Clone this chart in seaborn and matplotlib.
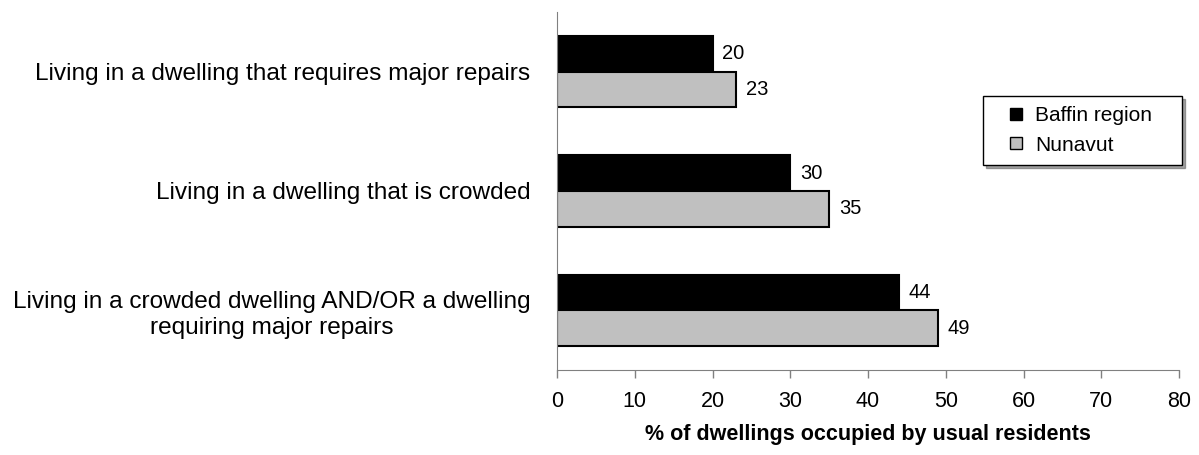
import matplotlib
matplotlib.use('Agg')
import matplotlib.pyplot as plt
import seaborn as sns
import pandas as pd
from matplotlib.lines import Line2D

categories = [
    'Living in a dwelling that requires major repairs',
    'Living in a dwelling that is crowded',
    'Living in a crowded dwelling AND/OR a dwelling\nrequiring major repairs',
]
baffin = [20, 30, 44]
nunavut = [23, 35, 49]
series = ['Baffin region', 'Nunavut']
colors = ['#000000', '#C0C0C0']
xticks = [0, 10, 20, 30, 40, 50, 60, 70, 80]

data = pd.DataFrame({
    'category': categories * 2,
    'value': baffin + nunavut,
    'series': [series[0]] * 3 + [series[1]] * 3,
})

sns.set_style('white')
plt.rcParams['font.family'] = ['Liberation Sans', 'DejaVu Sans']
plt.rcParams['text.color'] = 'black'
plt.rcParams['axes.labelcolor'] = 'black'

fig = plt.figure(figsize=(11.99, 4.55), dpi=100)
ax = fig.add_axes([557 / 1199, 1 - 370 / 455, (1179 - 557) / 1199, (370 - 12) / 455])

sns.barplot(data=data, y='category', x='value', hue='series', orient='h',
            palette=colors, width=0.6, edgecolor='black',
            linewidth=1.5, ax=ax, legend=False)

# value labels at the end of each bar
for cont in ax.containers:
    ax.bar_label(cont, padding=7, fontsize=14.5, color='black')

ax.set_xlim(0, 80)
ax.set_ylim(2.5, -0.5)
ax.set_xticks(xticks)
ax.tick_params(axis='x', labelsize=15.5, length=6, width=1, color='#808080',
               labelcolor='black', direction='out', bottom=True, pad=9)
ax.tick_params(axis='y', labelsize=17.6, length=0, pad=19, labelcolor='black')
for lbl in ax.get_yticklabels():
    lbl.set_multialignment('center')
    lbl.set_linespacing(1.25)
ax.set_ylabel('')
ax.set_xlabel('% of dwellings occupied by usual residents', fontsize=15.5,
              fontweight='bold', labelpad=9)

for side in ['top', 'right']:
    ax.spines[side].set_visible(False)
ax.spines['left'].set_color('#808080')
ax.spines['bottom'].set_color('#808080')

# legend with small square keys
handles = [Line2D([], [], linestyle='none', marker='s', markersize=8.6,
                  markerfacecolor=c, markeredgecolor='black', markeredgewidth=1)
           for c in colors]
leg = fig.legend(handles, series, loc='lower left', mode='expand',
                 bbox_to_anchor=(983 / 1199, 1 - 165 / 455, 199 / 1199, 0),
                 fontsize=15, frameon=True, shadow=True, fancybox=False,
                 handlelength=2.2, handletextpad=-0.2, borderpad=0.5,
                 labelspacing=0.5, borderaxespad=0)
leg.get_frame().set_edgecolor('black')
leg.get_frame().set_linewidth(1)

fig.savefig('out.png', dpi=100)
